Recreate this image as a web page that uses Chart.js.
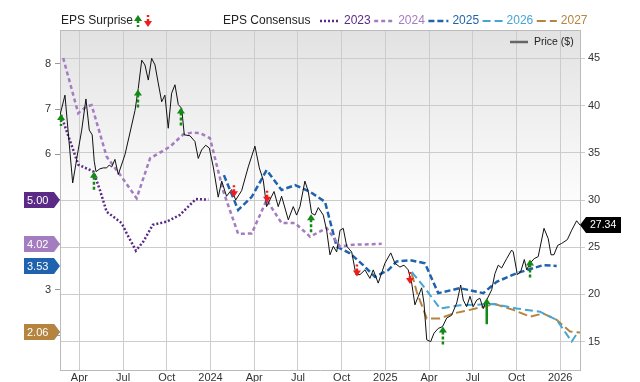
<!DOCTYPE html>
<html>
<head>
<meta charset="utf-8">
<script src="https://cdn.jsdelivr.net/npm/chart.js@4.4.1/dist/chart.umd.min.js"></script>
<style>
  html, body { margin: 0; padding: 0; background: #fff; }
</style>
</head>
<body>
<canvas id="epsChart" width="640" height="382"></canvas>
<script>
// x values are months counted from Jan 2023 (3 = Apr 2023, 12 = Jan 2024 ...)
const quarterTicks = [3, 6, 9, 12, 15, 18, 21, 24, 27, 30, 33, 36];
const epsTicks = [2, 3, 4, 5, 6, 7, 8];
const priceTicks = [15, 20, 25, 30, 35, 40, 45];

const priceMonth = [1.67,2.01,2.54,2.92,3.16,3.45,3.68,3.88,4.02,4.14,
  4.41,4.64,4.87,5.05,5.22,5.44,5.67,6.13,6.47,6.82,
  7.04,7.28,7.50,7.73,7.96,8.19,8.41,8.65,8.87,9.10,
  9.33,9.56,9.79,10.02,10.20,10.59,10.93,11.16,11.39,11.67,
  11.92,12.19,12.53,12.77,13.10,13.45,13.73,14.14,14.59,15.05,
  15.35,15.62,15.85,16.20,16.36,16.65,16.88,17.34,17.68,17.91,
  18.14,18.48,18.71,18.94,19.17,19.40,19.74,19.97,20.20,20.43,
  20.66,20.89,21.11,21.35,21.69,21.98,22.26,22.60,22.94,23.17,
  23.51,23.97,24.37,24.66,25.00,25.28,25.57,25.81,26.03,26.26,
  26.49,26.65,26.84,27.11,27.34,27.63,27.93,28.21,28.55,28.90,
  29.17,29.35,29.58,29.81,30.03,30.27,30.49,30.72,30.95,31.30,
  31.52,31.75,31.98,32.33,32.67,32.78,33.06,33.29,33.54,33.70,
  33.93,34.22,34.49,34.89,35.18,35.37,35.57,35.83,36.10,36.49,
  36.79,37.13,37.36];
const priceValue = [39.0,41.1,31.8,35.3,37.4,40.7,37.4,36.9,34.1,33.0,
  33.3,33.4,33.4,33.7,33.5,34.3,32.7,34.8,37.1,39.5,
  41.8,44.8,44.3,42.7,45.0,44.3,42.4,40.4,41.1,37.6,
  41.3,42.2,40.1,39.7,36.9,36.8,36.2,34.4,35.3,35.8,
  35.5,33.5,30.3,32.0,30.4,31.1,30.0,31.0,33.5,35.7,
  33.4,32.1,29.3,30.4,30.9,29.3,30.4,27.9,29.3,28.4,
  29.3,32.0,30.9,28.6,28.4,29.2,28.4,26.8,24.2,25.1,
  24.5,26.8,27.0,25.1,24.5,22.1,22.1,22.6,21.7,22.6,
  21.2,23.3,24.4,23.3,22.9,23.1,22.6,21.2,18.9,19.8,
  20.7,19.1,15.2,15.0,15.9,16.4,16.6,17.5,17.8,19.1,
  21.0,19.4,18.7,19.8,18.7,19.4,19.6,18.5,19.4,20.5,
  22.2,23.1,22.8,23.8,24.7,24.5,22.1,22.4,23.7,22.6,
  23.3,23.8,24.0,27.0,25.9,24.2,24.2,25.2,25.4,25.8,
  26.8,27.8,27.34];

const eps2023Month = [1.74,2.93,3.96,4.41,4.87,5.33,5.90,6.25,6.88,7.39,8.03,8.99,9.90,10.71,11.00,11.85];
const eps2023Value = [6.87,5.77,5.62,5.21,4.73,4.62,4.48,4.25,3.87,4.07,4.44,4.51,4.66,4.92,5.01,5.00];

const eps2024Month = [1.89,2.92,3.45,3.84,4.87,5.90,6.93,7.85,9.22,10.13,10.71,11.28,11.96,12.88,13.90,14.83,15.85,16.88,17.80,18.83,19.97,20.89,21.80,23.75];
const eps2024Value = [8.13,6.91,7.05,7.09,5.95,5.50,5.03,5.91,6.17,6.44,6.48,6.47,6.36,5.18,4.24,4.25,4.99,4.48,4.48,4.18,4.37,3.96,4.00,4.02];

const eps2025Month = [12.92,13.90,14.83,15.85,16.88,17.80,18.83,19.86,20.66,21.57,22.48,23.29,24.20,24.78,25.69,26.72,27.63,29.12,30.72,31.64,33.01,34.84,35.76];
const eps2025Value = [5.54,4.77,5.06,5.65,5.21,5.32,5.17,4.95,3.96,3.81,3.55,3.29,3.44,3.63,3.66,3.59,2.93,3.04,2.93,3.18,3.37,3.55,3.53];

const eps2026Month = [25.81,26.72,27.75,29.12,31.41,33.01,34.61,35.76,36.79,37.24];
const eps2026Value = [3.40,3.04,2.59,2.66,2.69,2.59,2.52,2.34,1.86,2.08];

const eps2027Month = [25.81,26.15,26.84,27.75,28.66,29.81,31.52,32.78,33.93,34.84,35.76,36.67,37.36];
const eps2027Value = [3.37,2.96,2.37,2.37,2.48,2.56,2.69,2.56,2.41,2.48,2.34,2.08,2.06];

// earnings surprises: report month, price where the arrow sits, surprise in %
const surpriseMonth = [1.74,4.00,7.02,9.97,13.61,15.88,18.90,22.05,25.69,27.95,30.96,33.93];
const surprisePrice = [39.1,33.0,41.7,39.8,30.3,29.7,28.5,21.9,21.1,16.6,19.6,23.7];
const surprisePct = [4,8,8,8,-4,-4,8,-4,-4,8,25,8];

const FONT = '"Liberation Sans", Arial, sans-serif';

const consensus = [
    { label: '2023', xs: eps2023Month, ys: eps2023Value, color: '#5b2a86', dash: [2, 2], width: 2.5 },
    { label: '2024', xs: eps2024Month, ys: eps2024Value, color: '#a47dc0', dash: [4, 3], width: 2.5 },
    { label: '2025', xs: eps2025Month, ys: eps2025Value, color: '#1f63ae', dash: [6, 3], width: 2.5 },
    { label: '2026', xs: eps2026Month, ys: eps2026Value, color: '#45a5d5', dash: [8, 4], width: 2 },
    { label: '2027', xs: eps2027Month, ys: eps2027Value, color: '#b5843e', dash: [9, 4], width: 2 }
];

function pts(xs, ys) {
    return xs.map((x, i) => ({ x: x, y: ys[i] }));
}

function monthLabel(v) {
    if (v % 12 === 0) return String(2023 + v / 12);
    return ['Jan', 'Apr', 'Jul', 'Oct'][(v % 12) / 3];
}

function drawArrow(ctx, x, y, dir, len, solid, color) {
    // dir 1 = pointing up (tip at y, stem below), -1 = pointing down
    ctx.save();
    ctx.strokeStyle = color;
    ctx.fillStyle = color;
    ctx.lineWidth = 2.5;
    ctx.setLineDash(solid ? [] : [3, 2]);
    ctx.beginPath();
    ctx.moveTo(x, y + dir * 5);
    ctx.lineTo(x, y + dir * len);
    ctx.stroke();
    ctx.setLineDash([]);
    ctx.beginPath();
    ctx.moveTo(x, y);
    ctx.lineTo(x - 4, y + dir * 6);
    ctx.lineTo(x + 4, y + dir * 6);
    ctx.closePath();
    ctx.fill();
    ctx.restore();
}

const backgroundPlugin = {
    id: 'plotBackground',
    beforeDraw(chart) {
        const { ctx, chartArea: a } = chart;
        ctx.save();
        ctx.fillStyle = '#fff';
        ctx.fillRect(0, 0, chart.width, chart.height);
        const g = ctx.createLinearGradient(0, a.top, 0, a.bottom);
        g.addColorStop(0, '#e2e2e2');
        g.addColorStop(0.55, '#ffffff');
        g.addColorStop(1, '#ffffff');
        ctx.fillStyle = g;
        ctx.fillRect(a.left, a.top, a.right - a.left, a.bottom - a.top);
        ctx.restore();
    }
};

const surprisePlugin = {
    id: 'surpriseArrows',
    afterDatasetsDraw(chart) {
        const { ctx, scales } = chart;
        surpriseMonth.forEach((m, i) => {
            const px = scales.x.getPixelForValue(m);
            const py = scales.price.getPixelForValue(surprisePrice[i]);
            const pct = surprisePct[i];
            const len = Math.min(26, 6 + 1.5 * Math.abs(pct));
            drawArrow(ctx, px, py, pct > 0 ? 1 : -1, len, Math.abs(pct) >= 15, pct > 0 ? '#138a13' : '#f01c1c');
        });
    }
};

const overlayPlugin = {
    id: 'overlay',
    afterDraw(chart) {
        const { ctx, chartArea: a, scales } = chart;
        ctx.save();

        // top edge of the plot box
        ctx.strokeStyle = '#bbbbbb';
        ctx.lineWidth = 1;
        ctx.beginPath();
        ctx.moveTo(a.left, a.top + 0.5);
        ctx.lineTo(a.right, a.top + 0.5);
        ctx.stroke();

        // last consensus values on the left
        consensus.forEach(s => {
            const v = s.ys[s.ys.length - 1];
            const y = Math.round(scales.eps.getPixelForValue(v));
            ctx.fillStyle = s.color;
            ctx.beginPath();
            ctx.moveTo(24, y - 8);
            ctx.lineTo(54, y - 8);
            ctx.lineTo(60, y);
            ctx.lineTo(54, y + 8);
            ctx.lineTo(24, y + 8);
            ctx.closePath();
            ctx.fill();
            ctx.fillStyle = '#fff';
            ctx.font = '11px ' + FONT;
            ctx.textBaseline = 'middle';
            ctx.textAlign = 'left';
            ctx.fillText(v.toFixed(2), 27, y + 0.5);
        });

        // last price on the right
        const lastPrice = priceValue[priceValue.length - 1];
        const py = Math.round(scales.price.getPixelForValue(lastPrice));
        ctx.fillStyle = '#000';
        ctx.beginPath();
        ctx.moveTo(580, py);
        ctx.lineTo(586, py - 8);
        ctx.lineTo(621, py - 8);
        ctx.lineTo(621, py + 8);
        ctx.lineTo(586, py + 8);
        ctx.closePath();
        ctx.fill();
        ctx.fillStyle = '#fff';
        ctx.font = '10.5px ' + FONT;
        ctx.fillText(lastPrice.toFixed(2), 590, py + 0.5);

        // legend row
        const ly = 21;
        ctx.font = '12px ' + FONT;
        ctx.fillStyle = '#222';
        ctx.fillText('EPS Surprise', 61, ly);
        drawArrow(ctx, 138, ly - 6, 1, 12, false, '#138a13');
        drawArrow(ctx, 148, ly + 6, -1, 12, false, '#f01c1c');
        ctx.fillStyle = '#222';
        ctx.fillText('EPS Consensus', 223, ly);

        let lx = 320;
        consensus.forEach(s => {
            ctx.strokeStyle = s.color;
            ctx.lineWidth = s.width;
            ctx.setLineDash(s.dash);
            ctx.beginPath();
            ctx.moveTo(lx, ly);
            ctx.lineTo(lx + 20, ly);
            ctx.stroke();
            ctx.setLineDash([]);
            ctx.fillStyle = s.color;
            ctx.fillText(s.label, lx + 24, ly);
            lx += 24 + ctx.measureText(s.label).width + 3.5;
        });

        // price legend inside the plot
        ctx.strokeStyle = '#666';
        ctx.lineWidth = 2.5;
        ctx.beginPath();
        ctx.moveTo(510, 42);
        ctx.lineTo(528, 42);
        ctx.stroke();
        ctx.fillStyle = '#222';
        ctx.font = '10.5px ' + FONT;
        ctx.fillText('Price ($)', 534, 42);

        ctx.restore();
    }
};

const datasets = [{
    label: 'Price ($)',
    data: pts(priceMonth, priceValue),
    yAxisID: 'price',
    borderColor: '#111',
    borderWidth: 1,
    pointRadius: 0,
    tension: 0
}].concat(consensus.map(s => ({
    label: s.label,
    data: pts(s.xs, s.ys),
    yAxisID: 'eps',
    borderColor: s.color,
    borderWidth: s.width,
    borderDash: s.dash,
    pointRadius: 0,
    tension: 0
})));

const tickFont = { family: FONT, size: 11 };

new Chart(document.getElementById('epsChart'), {
    type: 'line',
    data: { datasets: datasets },
    options: {
        responsive: false,
        animation: false,
        devicePixelRatio: 1,
        layout: { padding: { top: 30, left: 0, right: 0, bottom: 0 } },
        plugins: {
            legend: { display: false },
            tooltip: { enabled: false }
        },
        scales: {
            x: {
                type: 'linear',
                min: 1.67,
                max: 37.36,
                afterBuildTicks: axis => { axis.ticks = quarterTicks.map(v => ({ value: v })); },
                afterFit: axis => { axis.height = 12; },
                ticks: { callback: v => monthLabel(v), font: tickFont, color: '#333', padding: 1, maxRotation: 0, autoSkip: false },
                grid: { color: '#cccccc', drawTicks: false },
                border: { color: '#bbbbbb' }
            },
            eps: {
                type: 'linear',
                position: 'left',
                min: 1.23,
                max: 8.75,
                afterBuildTicks: axis => { axis.ticks = epsTicks.map(v => ({ value: v })); },
                afterFit: axis => { axis.width = 60; },
                ticks: { font: tickFont, color: '#333', padding: 4 },
                grid: { drawOnChartArea: false, tickLength: 5, color: '#999' },
                border: { color: '#bbbbbb' }
            },
            price: {
                type: 'linear',
                position: 'right',
                min: 12,
                max: 48,
                afterBuildTicks: axis => { axis.ticks = priceTicks.map(v => ({ value: v })); },
                afterFit: axis => { axis.width = 60; },
                ticks: { font: tickFont, color: '#333', padding: 3 },
                grid: { color: '#cccccc', tickLength: 5 },
                border: { color: '#bbbbbb' }
            }
        }
    },
    plugins: [backgroundPlugin, surprisePlugin, overlayPlugin]
});
</script>
</body>
</html>
